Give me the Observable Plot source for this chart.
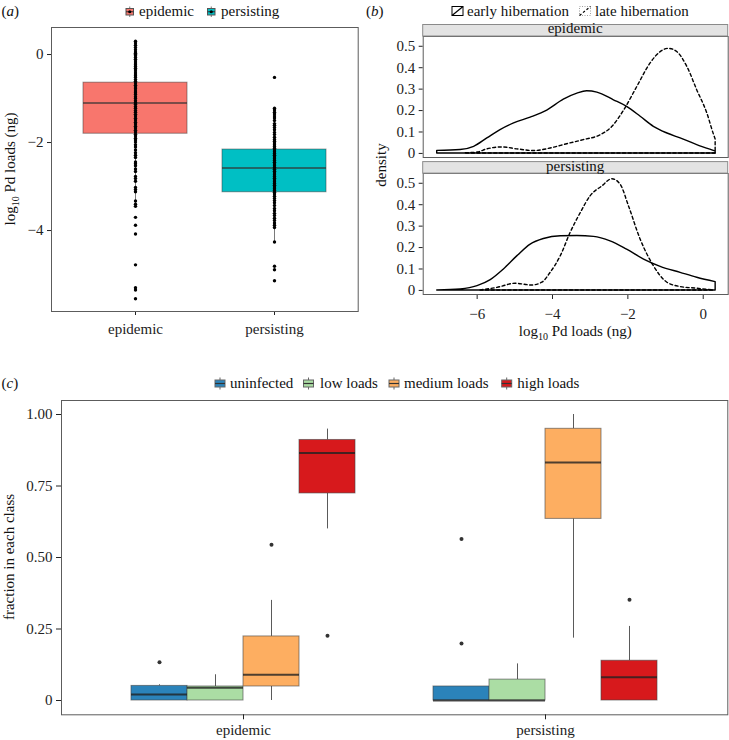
<!DOCTYPE html>
<html><head><meta charset="utf-8">
<script src="https://cdn.jsdelivr.net/npm/d3@7"></script>
<script src="https://cdn.jsdelivr.net/npm/@observablehq/plot@0.6"></script>
<style>
body{margin:0;background:#fff;}
#root{position:relative;width:729px;height:740px;overflow:hidden;background:#fff;}
</style></head><body><div id="root"></div>
<script>
// ---------- Panel (a) ----------
const aGroups = ["epidemic", "persisting"];
const aColors = ["#F8766D", "#00BFC4"];
const aQ1 = [-1.80, -3.13];
const aMed = [-1.10, -2.58];
const aQ3 = [-0.64, -2.16];
const aLo = [-3.45, -4.26];
const aHi = [0.30, -1.22];
const aTicks = [-4, -2, 0];
const aEpidemicLoads = [0.30, 0.26, 0.21, 0.16, 0.11, 0.06, 0.03, 0.00, -0.03, -0.07, -0.11, -0.15, -0.19, -0.23, -0.27, -0.31, -0.35, -0.40, -0.44, -0.48, -0.52, -0.57, -0.61, -0.65, -0.70, -0.74, -0.78, -0.83, -0.87, -0.91, -0.96, -1.00, -1.05, -1.09, -1.13, -1.18, -1.22, -1.27, -1.31, -1.36, -1.40, -1.45, -1.49, -1.54, -1.58, -1.63, -1.67, -1.72, -1.76, -1.81, -1.85, -1.90, -1.94, -1.99, -2.05, -2.10, -2.17, -2.23, -2.29, -2.34, -2.44, -2.48, -2.53, -2.60, -2.66, -2.77, -2.82, -2.88, -3.02, -3.07, -3.12, -3.33, -3.40, -3.45, -3.70, -3.88, -4.08, -4.78, -5.30, -5.35, -5.55];
const aPersistingLoads = [-0.52, -1.22, -1.26, -1.31, -1.35, -1.40, -1.44, -1.50, -1.57, -1.61, -1.66, -1.71, -1.77, -1.82, -1.88, -1.93, -1.97, -2.01, -2.05, -2.09, -2.13, -2.17, -2.21, -2.25, -2.29, -2.33, -2.37, -2.41, -2.45, -2.49, -2.53, -2.57, -2.61, -2.65, -2.69, -2.73, -2.77, -2.81, -2.85, -2.89, -2.93, -2.97, -3.01, -3.05, -3.09, -3.13, -3.17, -3.22, -3.27, -3.32, -3.37, -3.43, -3.50, -3.55, -3.61, -3.66, -3.72, -3.77, -3.83, -3.88, -3.93, -4.26, -4.81, -4.89, -5.14];

// ---------- Panel (b) ----------
const bGroups = ["epidemic", "persisting"];
const bSeries = ["early hibernation", "late hibernation"];
const bXTicks = [-6, -4, -2, 0];
const bYTicks = [0, 0.1, 0.2, 0.3, 0.4, 0.5];
const bEpiEarlyX = [-7.06, -6.44, -6.08, -5.73, -5.38, -5.02, -4.58, -4.14, -3.70, -3.34, -3.08, -2.81, -2.37, -2.02, -1.66, -1.31, -0.95, -0.60, -0.16, 0.28, 0.33];
const bEpiEarlyY = [0.012, 0.016, 0.031, 0.070, 0.109, 0.140, 0.167, 0.200, 0.251, 0.279, 0.290, 0.284, 0.248, 0.217, 0.171, 0.124, 0.093, 0.070, 0.039, 0.012, 0.009];
const bEpiLateX = [-6.30, -5.99, -5.73, -5.33, -4.93, -4.49, -4.05, -3.61, -3.17, -2.72, -2.41, -2.10, -1.75, -1.40, -1.13, -0.91, -0.69, -0.42, -0.16, 0.11, 0.28, 0.33];
const bEpiLateY = [0.001, 0.004, 0.019, 0.028, 0.019, 0.011, 0.023, 0.043, 0.062, 0.085, 0.124, 0.200, 0.310, 0.419, 0.473, 0.488, 0.473, 0.403, 0.295, 0.186, 0.090, 0.065];
const bPerEarlyX = [-7.06, -6.44, -5.99, -5.64, -5.29, -4.93, -4.58, -4.23, -3.78, -3.34, -2.90, -2.46, -2.02, -1.57, -1.13, -0.60, -0.16, 0.33];
const bPerEarlyY = [0.000, 0.005, 0.020, 0.048, 0.098, 0.160, 0.214, 0.240, 0.253, 0.254, 0.250, 0.229, 0.190, 0.144, 0.110, 0.082, 0.059, 0.039];
const bPerLateX = [-5.91, -5.46, -4.98, -4.54, -4.27, -4.05, -3.78, -3.52, -3.25, -2.99, -2.68, -2.41, -2.19, -1.97, -1.66, -1.31, -0.95, -0.60, -0.16, 0.28];
const bPerLateY = [0.000, 0.012, 0.031, 0.023, 0.036, 0.082, 0.160, 0.268, 0.361, 0.439, 0.485, 0.519, 0.493, 0.392, 0.237, 0.113, 0.036, 0.016, 0.008, 0.000];

// ---------- Panel (c) ----------
const cGroups = ["epidemic", "persisting"];
const cClasses = ["uninfected", "low loads", "medium loads", "high loads"];
const cColors = ["#2B83BA", "#ABDDA4", "#FDAE61", "#D7191C"];
const cYTicks = [0, 0.25, 0.5, 0.75, 1];
const cEpiLo  = [0, 0, 0, 0.600];
const cEpiQ1  = [0, 0, 0.049, 0.724];
const cEpiMed = [0.021, 0.045, 0.090, 0.865];
const cEpiQ3  = [0.051, 0.049, 0.224, 0.911];
const cEpiHi  = [0.055, 0.090, 0.350, 0.949];
const cPerLo  = [0, 0, 0.218, 0];
const cPerQ1  = [0, 0, 0.635, 0];
const cPerMed = [0, 0, 0.832, 0.081];
const cPerQ3  = [0.049, 0.073, 0.950, 0.139];
const cPerHi  = [0.049, 0.128, 1.000, 0.259];
const cOutGroup = ["epidemic", "epidemic", "epidemic", "persisting", "persisting", "persisting"];
const cOutClass = ["uninfected", "medium loads", "high loads", "uninfected", "uninfected", "high loads"];
const cOutValue = [0.134, 0.545, 0.226, 0.565, 0.199, 0.352];

// ---------- build tables ----------
const aStats = aGroups.map((g, i) => ({group: g, q1: aQ1[i], med: aMed[i], q3: aQ3[i], lo: aLo[i], hi: aHi[i]}));
const aPoints = [
  ...aEpidemicLoads.map(v => ({group: "epidemic", v})),
  ...aPersistingLoads.map(v => ({group: "persisting", v}))
];
const mk = (grp, ser, xs, ys) => xs.map((x, i) => ({group: grp, series: ser, x, y: ys[i]}));
const bEarly = [...mk("epidemic", bSeries[0], bEpiEarlyX, bEpiEarlyY), ...mk("persisting", bSeries[0], bPerEarlyX, bPerEarlyY)];
const bLate = [...mk("epidemic", bSeries[1], bEpiLateX, bEpiLateY), ...mk("persisting", bSeries[1], bPerLateX, bPerLateY)];
const cStatsBy = {
  epidemic: [cEpiLo, cEpiQ1, cEpiMed, cEpiQ3, cEpiHi],
  persisting: [cPerLo, cPerQ1, cPerMed, cPerQ3, cPerHi]
};
const cRows = [];
cGroups.forEach(g => cClasses.forEach((c, k) => {
  const s = cStatsBy[g];
  cRows.push({group: g, cls: c, lo: s[0][k], q1: s[1][k], med: s[2][k], q3: s[3][k], hi: s[4][k]});
}));
const cOut = cOutValue.map((v, i) => ({group: cOutGroup[i], cls: cOutClass[i], v}));

const FONT = '"Liberation Serif", "Times New Roman", Tinos, serif';
const root = document.getElementById("root");
const baseStyle = (left, top) => ({position: "absolute", left: left + "px", top: top + "px", background: "transparent", fontFamily: FONT, fontSize: "15px", color: "#222", overflow: "visible"});
const intFmt = d3.format("d");

// ---------- Panel (a) chart ----------
const chartA = Plot.plot({
  width: 362, height: 350,
  marginTop: 27, marginBottom: 39, marginLeft: 51, marginRight: 4.3,
  style: baseStyle(0, 0),
  x: {domain: aGroups, paddingInner: 0.25, paddingOuter: 0.225, tickSize: 4, tickPadding: 8, label: null},
  y: {domain: [-5.84, 0.614], ticks: aTicks, tickFormat: intFmt, tickSize: 4, tickPadding: 4, label: null},
  color: {domain: aGroups, range: aColors},
  marks: [
    Plot.frame({stroke: "#5c5c5c"}),
    Plot.ruleX(aStats, {x: "group", y1: "lo", y2: "hi", stroke: "#7a7a7a", strokeWidth: 1}),
    Plot.barY(aStats, {x: "group", y1: "q1", y2: "q3", fill: "group", stroke: "#333", strokeOpacity: 0.5}),
    Plot.tickY(aStats, {x: "group", y: "med", stroke: "#333", strokeWidth: 1.5, strokeOpacity: 0.85}),
    Plot.dot(aPoints, {x: "group", y: "v", r: 1.7, fill: "black", stroke: "none"})
  ]
});
root.appendChild(chartA);

// ---------- Panel (b) chart ----------
const chartB = Plot.plot({
  width: 367, height: 350,
  marginTop: 36, marginBottom: 55.5, marginLeft: 60.7, marginRight: 1.3,
  style: baseStyle(362, 0),
  x: {domain: [-7.432, 0.663], ticks: bXTicks, tickFormat: intFmt, tickSize: 5, tickPadding: 9, label: null},
  y: {domain: [-0.019, 0.5456], ticks: bYTicks, tickFormat: d => d === 0 ? "0" : d3.format(".1f")(d), tickSize: 4, tickPadding: 4, label: null},
  fy: {domain: bGroups, paddingInner: 0.1145, paddingOuter: 0, axis: null, label: null},
  marks: [
    Plot.frame({stroke: "#5c5c5c"}),
    Plot.areaY(bLate, {x: "x", y: "y", fy: "group", fill: "none", stroke: "black", strokeWidth: 1.4, strokeDasharray: "3,2.6", curve: "monotone-x"}),
    Plot.areaY(bEarly, {x: "x", y: "y", fy: "group", fill: "none", stroke: "black", strokeWidth: 1.4, curve: "monotone-x"})
  ]
});
root.appendChild(chartB);

// ---------- Panel (c) base (frame + y axis) ----------
const cDims = {width: 729, height: 380, marginTop: 40, marginBottom: 25.7, marginLeft: 61, marginRight: 1.7};
const cYDomain = [-0.05, 1.049];
const chartCBase = Plot.plot({
  ...cDims,
  style: baseStyle(0, 360),
  y: {domain: cYDomain, ticks: cYTicks, tickFormat: d => d === 0 ? "0" : d.toFixed(2), tickSize: 5, tickPadding: 4, label: null},
  marks: [Plot.frame({stroke: "#5c5c5c"})]
});
root.appendChild(chartCBase);

// ---------- Panel (c) boxes (faceted by group, dodged by class) ----------
const chartC = Plot.plot({
  ...cDims,
  style: baseStyle(0, 360),
  fx: {domain: cGroups, paddingInner: 0, paddingOuter: 0.1, axis: "bottom", tickSize: 5, tickPadding: 5, label: null},
  x: {domain: cClasses, paddingInner: 0, paddingOuter: 2 / 3, axis: null},
  y: {domain: cYDomain, axis: null},
  color: {domain: cClasses, range: cColors},
  marks: [
    Plot.ruleX(cRows, {fx: "group", x: "cls", y1: "q3", y2: "hi", stroke: "#5a5a5a", strokeWidth: 1}),
    Plot.ruleX(cRows, {fx: "group", x: "cls", y1: "lo", y2: "q1", stroke: "#5a5a5a", strokeWidth: 1}),
    Plot.barY(cRows, {fx: "group", x: "cls", y1: "q1", y2: "q3", fill: "cls", stroke: "#444", strokeOpacity: 0.6, strokeWidth: 1}),
    Plot.tickY(cRows, {fx: "group", x: "cls", y: "med", stroke: "#222", strokeOpacity: 0.8, strokeWidth: 2}),
    Plot.dot(cOut, {fx: "group", x: "cls", y: "v", r: 2, fill: "#333", stroke: "none"})
  ]
});
root.appendChild(chartC);

// ---------- text, legends and strips overlay ----------
const ov = d3.select(root).append("svg")
  .attr("width", 729).attr("height", 740)
  .attr("font-family", FONT).attr("font-size", 15).attr("fill", "#111")
  .style("position", "absolute").style("left", "0px").style("top", "0px");

function panelLabel(x, y, letter) {
  const t = ov.append("text").attr("x", x).attr("y", y);
  t.append("tspan").text("(");
  t.append("tspan").attr("font-style", "italic").text(letter);
  t.append("tspan").text(")");
}
panelLabel(1.5, 16, "a");
panelLabel(366, 16, "b");
panelLabel(1.5, 388, "c");

// legend (a)
const aLegX = [126, 207.5], aTxtX = [139, 221];
aGroups.forEach((g, i) => {
  const x = aLegX[i];
  ov.append("line").attr("x1", x + 3.75).attr("x2", x + 3.75).attr("y1", 6.5).attr("y2", 17).attr("stroke", "#777");
  ov.append("rect").attr("x", x).attr("y", 8.5).attr("width", 7.5).attr("height", 6.5).attr("fill", aColors[i]).attr("stroke", "#555");
  ov.append("line").attr("x1", x).attr("x2", x + 7.5).attr("y1", 11.75).attr("y2", 11.75).attr("stroke", "#333");
  ov.append("circle").attr("cx", x + 3.75).attr("cy", 11.75).attr("r", 1.6).attr("fill", "black");
  ov.append("text").attr("x", aTxtX[i]).attr("y", 16).text(g);
});

// legend (b)
ov.append("rect").attr("x", 452).attr("y", 6.5).attr("width", 11).attr("height", 9).attr("fill", "none").attr("stroke", "black").attr("stroke-width", 1);
ov.append("line").attr("x1", 452).attr("y1", 15.5).attr("x2", 463).attr("y2", 6.5).attr("stroke", "black").attr("stroke-width", 1.2);
ov.append("text").attr("x", 467).attr("y", 16).text(bSeries[0]);
ov.append("rect").attr("x", 579.5).attr("y", 6.5).attr("width", 11).attr("height", 9).attr("fill", "none").attr("stroke", "#888").attr("stroke-width", 0.8).attr("stroke-dasharray", "1,1.5");
ov.append("line").attr("x1", 579.5).attr("y1", 15.5).attr("x2", 590.5).attr("y2", 6.5).attr("stroke", "black").attr("stroke-width", 1.2).attr("stroke-dasharray", "2.5,2");
ov.append("text").attr("x", 595).attr("y", 16).text(bSeries[1]);

// strips (b)
[[24.5, 33.2], [161.6, 170.6]].forEach(([y, ty], i) => {
  ov.append("rect").attr("x", 422.7).attr("y", y).attr("width", 305).attr("height", 11.5).attr("fill", "#e3e3e3").attr("stroke", "#8a8a8a").attr("stroke-width", 1);
  ov.append("text").attr("x", 575.2).attr("y", ty).attr("text-anchor", "middle").text(bGroups[i]);
});

// axis titles
function logLabel(sel) {
  sel.append("tspan").text("log");
  sel.append("tspan").attr("font-size", "10px").attr("dy", 4).text("10");
  sel.append("tspan").attr("dy", -4).text(" Pd loads (ng)");
}
logLabel(ov.append("text").attr("text-anchor", "middle").attr("transform", "translate(14.5,169) rotate(-90)"));
logLabel(ov.append("text").attr("text-anchor", "middle").attr("x", 575.2).attr("y", 336));
ov.append("text").attr("text-anchor", "middle").attr("transform", "translate(386,165) rotate(-90)").text("density");
ov.append("text").attr("text-anchor", "middle").attr("transform", "translate(13.5,557) rotate(-90)").text("fraction in each class");

// legend (c)
const cKeyX = [215, 303.5, 389, 501.7], cTxtX = [230, 320, 404, 517.3];
cClasses.forEach((c, i) => {
  const x = cKeyX[i];
  ov.append("line").attr("x1", x + 5).attr("x2", x + 5).attr("y1", 377.5).attr("y2", 389.5).attr("stroke", "#666");
  ov.append("rect").attr("x", x).attr("y", 380).attr("width", 10).attr("height", 7).attr("fill", cColors[i]).attr("stroke", "#666");
  ov.append("line").attr("x1", x).attr("x2", x + 10).attr("y1", 383.5).attr("y2", 383.5).attr("stroke", "#333").attr("stroke-width", 1.2);
  ov.append("text").attr("x", cTxtX[i]).attr("y", 388).text(c);
});
</script></body></html>
